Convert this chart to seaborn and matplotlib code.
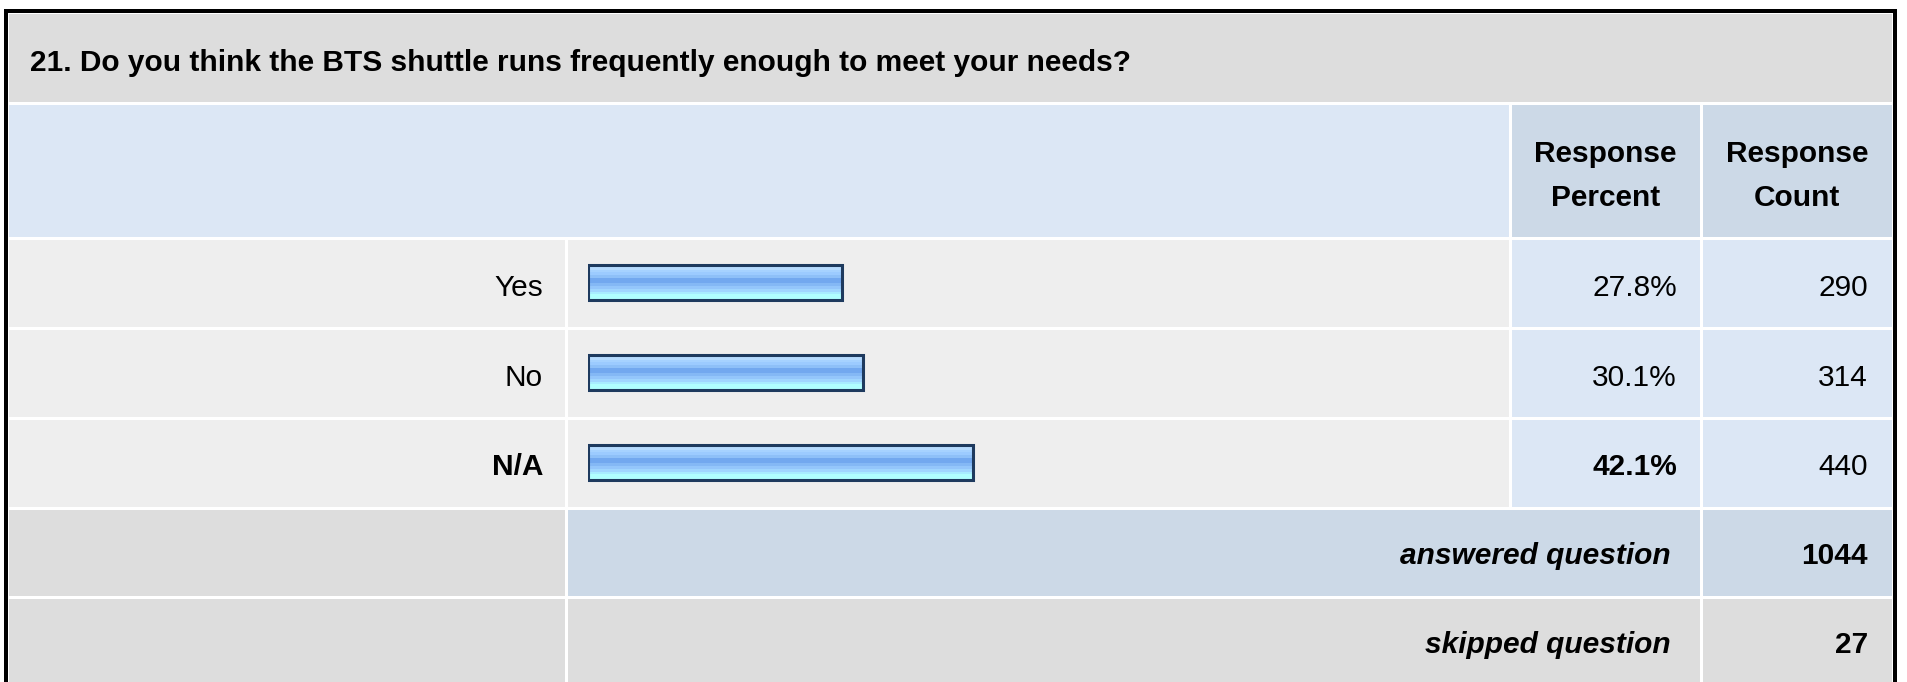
import numpy as np
import pandas as pd
import matplotlib
matplotlib.use('Agg')
import matplotlib.pyplot as plt
from matplotlib.patches import Rectangle
from matplotlib.colors import to_rgb
import seaborn as sns

# survey data
question = '21. Do you think the BTS shuttle runs frequently enough to meet your needs?'
answers = ['Yes', 'No', 'N/A']
percents = [27.8, 30.1, 42.1]
counts = [290, 314, 440]
answered = 1044
skipped = 27
header_cols = [('Response', 'Percent'), ('Response', 'Count')]

sns.set_theme(style='white')
plt.rcParams['font.family'] = ['Liberation Sans', 'DejaVu Sans']

W, H = 1907, 682
fig = plt.figure(figsize=(W / 100, H / 100), dpi=100)
fig.patch.set_facecolor('white')

# background axes in pixel coordinates, for the table cells
bg = fig.add_axes([0, 0, 1, 1])
bg.set_xlim(0, W)
bg.set_ylim(H, 0)
bg.axis('off')

GRAY = '#dddddd'
LIGHT = '#eeeeee'
BLUE = '#dce7f5'
BLUE2 = '#ccd9e7'
INK = 'black'

xs = [7, 566, 1510, 1701, 1893]
ys = [12, 103, 238, 328, 418, 508, 597, 690]


def cell(x0, y0, x1, y1, color):
    bg.add_patch(Rectangle((x0 + 1.5, y0 + 1.5), x1 - x0 - 3, y1 - y0 - 3,
                           facecolor=color, edgecolor='none', zorder=1))


# title + header
cell(xs[0], ys[0], xs[4], ys[1], GRAY)
cell(xs[0], ys[1], xs[2], ys[2], BLUE)
cell(xs[2], ys[1], xs[3], ys[2], BLUE2)
cell(xs[3], ys[1], xs[4], ys[2], BLUE2)
# answer rows
for i in range(3):
    cell(xs[0], ys[2 + i], xs[1], ys[3 + i], LIGHT)
    cell(xs[1], ys[2 + i], xs[2], ys[3 + i], LIGHT)
    cell(xs[2], ys[2 + i], xs[3], ys[3 + i], BLUE)
    cell(xs[3], ys[2 + i], xs[4], ys[3 + i], BLUE)
# answered / skipped
cell(xs[0], ys[5], xs[1], ys[6], GRAY)
cell(xs[1], ys[5], xs[3], ys[6], BLUE2)
cell(xs[3], ys[5], xs[4], ys[6], BLUE2)
cell(xs[0], ys[6], xs[1], ys[7], GRAY)
cell(xs[1], ys[6], xs[3], ys[7], GRAY)
cell(xs[3], ys[6], xs[4], ys[7], GRAY)

# outer black frame (no bottom edge, it is cut off)
bg.add_patch(Rectangle((4, 9), 3.5, H, facecolor='black', edgecolor='none', zorder=2))
bg.add_patch(Rectangle((1893, 9), 3.5, H, facecolor='black', edgecolor='none', zorder=2))
bg.add_patch(Rectangle((4, 9), 1892.5, 3.5, facecolor='black', edgecolor='none', zorder=2))

FS = 21.5
bg.text(30, 71, question, fontsize=FS, fontweight='bold', ha='left', va='baseline', color=INK)
for (l1, l2), cx in zip(header_cols, [1605.5, 1797]):
    bg.text(cx, 162, l1, fontsize=FS, fontweight='bold', ha='center', va='baseline', color=INK)
    bg.text(cx, 206, l2, fontsize=FS, fontweight='bold', ha='center', va='baseline', color=INK)

best = int(np.argmax(percents))
for i, (a, p, c) in enumerate(zip(answers, percents, counts)):
    base = 296 + i * 89.5
    w = 'bold' if i == best else 'normal'
    bg.text(543, base, a, fontsize=FS, fontweight=w, ha='right', va='baseline', color=INK)
    bg.text(1677, base, f'{p:.1f}%', fontsize=FS, fontweight=w, ha='right', va='baseline', color=INK)
    bg.text(1868, base, str(c), fontsize=FS, ha='right', va='baseline', color=INK)

bg.text(1671, 564, 'answered question', fontsize=FS, fontweight='bold', style='italic',
        ha='right', va='baseline', color=INK)
bg.text(1868, 564, str(answered), fontsize=FS, fontweight='bold', ha='right', va='baseline', color=INK)
bg.text(1671, 653, 'skipped question', fontsize=FS, fontweight='bold', style='italic',
        ha='right', va='baseline', color=INK)
bg.text(1868, 653, str(skipped), fontsize=FS, fontweight='bold', ha='right', va='baseline', color=INK)

# bar axes: 0..100 % spans x 588..1503, three rows span y 238..507
x0, x1 = 588, 1503
y0, y1 = 238, 507.5
ax = fig.add_axes([x0 / W, 1 - y1 / H, (x1 - x0) / W, (y1 - y0) / H])
ax.patch.set_alpha(0)
df = pd.DataFrame({'answer': answers, 'percent': percents})
sns.barplot(data=df, x='percent', y='answer', orient='h', width=0.39,
            color='#8ec0fa', edgecolor='#1e3a5e', linewidth=2.2, ax=ax, zorder=3)

# glossy horizontal stripes, light top, darker middle, cyan bottom
grad = ['#cce8ff', '#b6dbff', '#a6d2ff', '#9ccbff', '#8ec0f8', '#72a8ef',
        '#72a8ef', '#84b8f5', '#94c6fb', '#a0d6ff', '#a8ecff', '#b0ffff', '#b0ffff']
img = np.array([to_rgb(c) for c in grad]).reshape(-1, 1, 3)
for bar in ax.patches:
    bx, by = bar.get_x(), bar.get_y()
    bw, bh = bar.get_width(), bar.get_height()
    ax.imshow(img, extent=(bx, bx + bw, by + bh, by), origin='upper',
              aspect='auto', interpolation='nearest', zorder=2)
    bar.set_facecolor('none')

ax.set_xlim(0, 100)
ax.set_ylim(2.5, -0.5)
ax.axis('off')

plt.savefig('out.png', dpi=100)
